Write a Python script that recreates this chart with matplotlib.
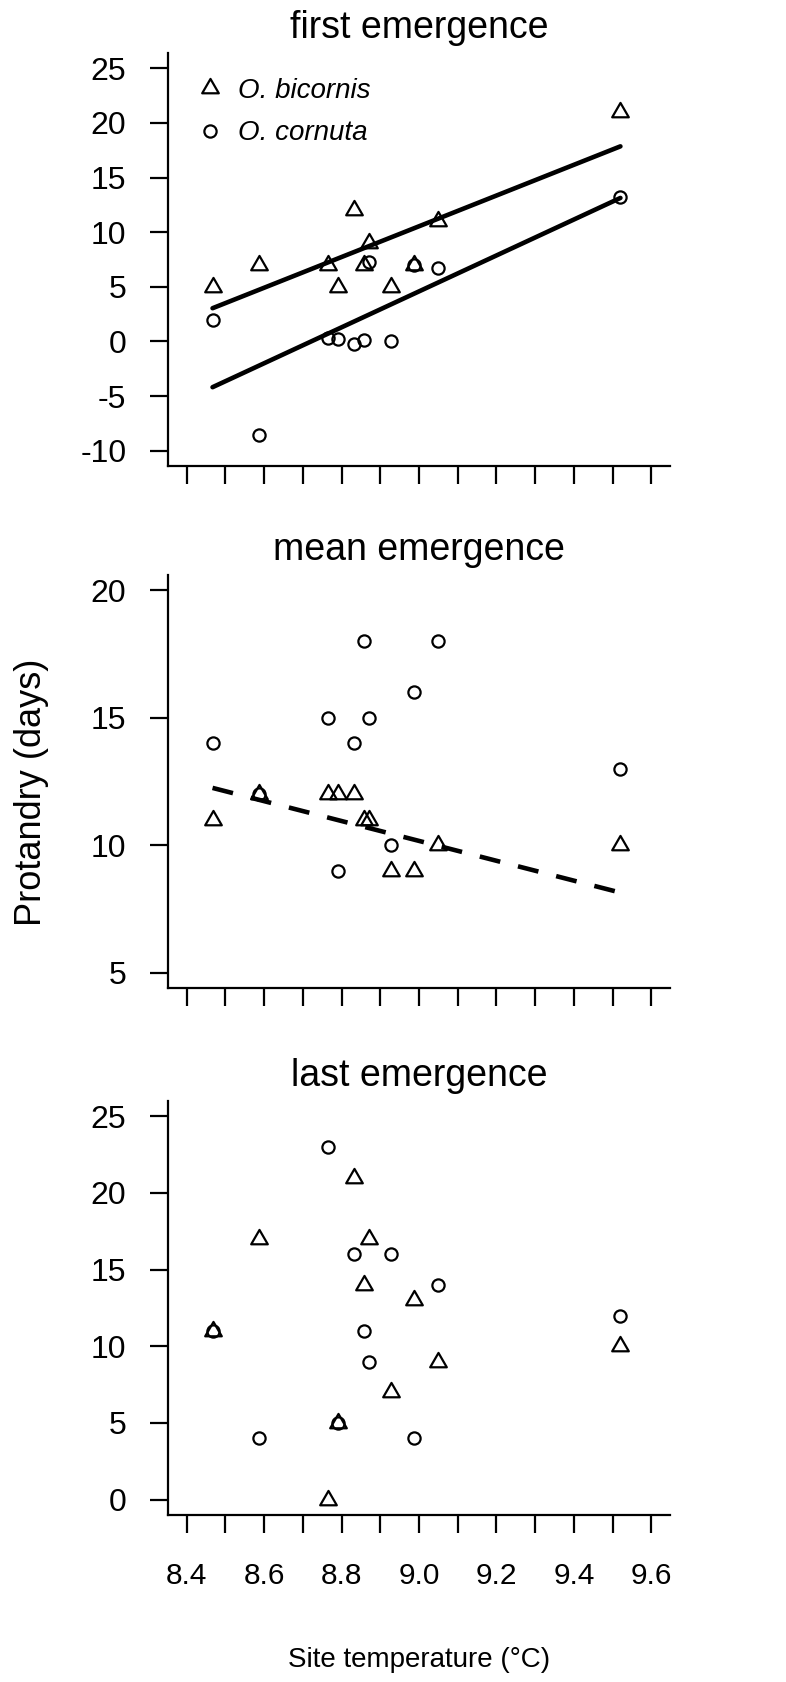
import numpy as np
import matplotlib
matplotlib.use("Agg")
import matplotlib.pyplot as plt
from matplotlib.path import Path

plt.rcParams["font.family"] = ["Liberation Sans", "DejaVu Sans"]
plt.rcParams["axes.unicode_minus"] = False

# site temperature (°C) – same 11 sites in every panel
site_temp = [8.467, 8.588, 8.766, 8.790, 8.832, 8.859, 8.871, 8.927, 8.986, 9.048, 9.520]

# protandry (days) per species
first_bic = [5, 7, 7, 5, 12, 7, 9, 5, 7, 11, 21]
first_cor = [2, -8.6, 0.3, 0.2, -0.2, 0.1, 7.3, 0, 7, 6.7, 13.2]
mean_bic = [11, 12, 12, 12, 12, 11, 11, 9, 9, 10, 10]
mean_cor = [14, 12, 15, 9, 14, 18, 15, 10, 16, 18, 13]
last_bic = [11, 17, 0, 5, 21, 14, 17, 7, 13, 9, 10]
last_cor = [11, 4, 23, 5, 16, 11, 9, 16, 4, 14, 12]

# fitted lines (intercept, slope)
fit_first_bic = (-116.09, 14.07)
fit_first_cor = (-143.47, 16.45)
fit_mean_bic = (45.27, -3.90)

titles = ["first emergence", "mean emergence", "last emergence"]
ylims = [(-11.4, 26.4), (4.4, 20.6), (-1.0, 26.0)]
yticks = [np.arange(-10, 26, 5), np.arange(5, 21, 5), np.arange(0, 26, 5)]

# R-style open triangle (pch = 2), centred on its centroid
TRI = Path([(0, 1.555), (1.347, -0.778), (-1.347, -0.778), (0, 1.555)],
           [Path.MOVETO, Path.LINETO, Path.LINETO, Path.CLOSEPOLY])

W, H = 786, 1682
fig = plt.figure(figsize=(W / 100, H / 100), dpi=100)

# axes boxes in pixels: left, top, right, bottom
boxes = [(168, 53, 670, 466), (168, 575, 670, 988), (168, 1101, 670, 1515)]
axes = []
for (l, t, r, b) in boxes:
    axes.append(fig.add_axes([l / W, (H - b) / H, (r - l) / W, (b - t) / H]))

panels = [(first_bic, first_cor), (mean_bic, mean_cor), (last_bic, last_cor)]
xt = np.round(np.arange(8.4, 9.61, 0.1), 1)

for i, ax in enumerate(axes):
    bic, cor = panels[i]
    ax.plot(site_temp, cor, ls="none", marker="o", ms=8.8, mfc="none",
            mec="black", mew=1.6, label="O. cornuta", zorder=3)
    ax.plot(site_temp, bic, ls="none", marker=TRI, ms=13.8, mfc="none",
            mec="black", mew=1.6, label="O. bicornis", zorder=3)

    ax.set_xlim(8.352, 9.648)
    ax.set_ylim(*ylims[i])
    ax.set_yticks(yticks[i])
    ax.set_xticks(xt)
    if i == 2:
        ax.set_xticklabels([f"{v:.1f}" if round(v * 10) % 2 == 0 else "" for v in xt])
    else:
        ax.set_xticklabels([])
    for s in ["top", "right"]:
        ax.spines[s].set_visible(False)
    for s in ["left", "bottom"]:
        ax.spines[s].set_linewidth(1.6)
    ax.tick_params(direction="out", length=13, width=1.6)
    ax.tick_params(axis="y", pad=17, labelsize=23)
    ax.tick_params(axis="x", pad=21, labelsize=21.5)
    ax.set_title(titles[i], fontsize=27, pad=11)

xs = np.array([min(site_temp), max(site_temp)])
ax1, ax2, ax3 = axes
ax1.plot(xs, fit_first_bic[0] + fit_first_bic[1] * xs, color="black", lw=3.3,
         solid_capstyle="round", zorder=2)
ax1.plot(xs, fit_first_cor[0] + fit_first_cor[1] * xs, color="black", lw=3.3,
         solid_capstyle="round", zorder=2)
ax2.plot(xs, fit_mean_bic[0] + fit_mean_bic[1] * xs, color="black", lw=3.3,
         ls=(0, (4.6, 4.0)), zorder=2)

h, lab = ax1.get_legend_handles_labels()
ax1.legend(h[::-1], lab[::-1], loc="upper left", bbox_to_anchor=(0.05, 0.94),
           frameon=False, prop={"style": "italic", "size": 20},
           handlelength=1.2, handletextpad=0.4, labelspacing=0.6,
           borderpad=0, borderaxespad=0)

ax3.set_xlabel("Site temperature (°C)", fontsize=20, va="center")
ax3.xaxis.set_label_coords(0.5, -0.35)
fig.text(32 / W, 1 - 792 / H, "Protandry (days)", rotation=90, fontsize=26,
         ha="center", va="center")

fig.savefig("out.png", dpi=100)
